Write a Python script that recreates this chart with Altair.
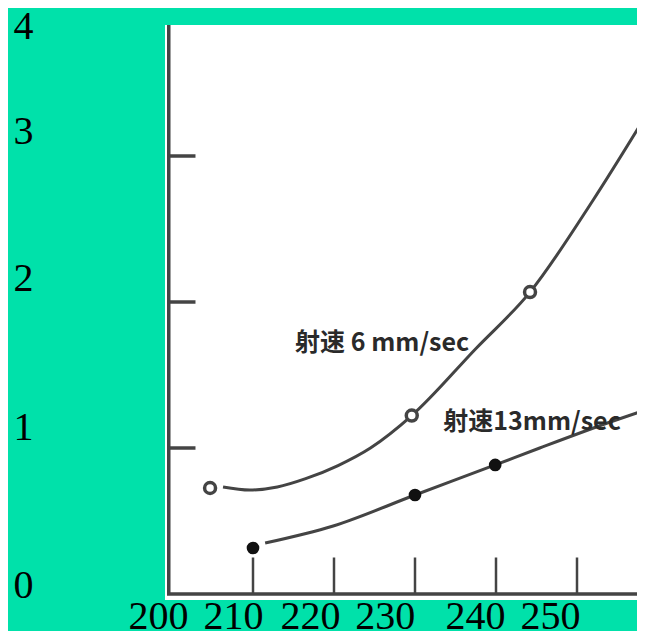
import altair as alt
import pandas as pd

# ---- slide labels (outer, misaligned text placed on the slide) ----
y_label_text = ["0", "1", "2", "3", "4"]
y_label_pos = [0.055, 1.137, 2.158, 3.171, 3.89]          # label centres
x_label_text = ["200", "210", "220", "230", "240", "250"]
x_label_pos = [201.98, 211.23, 220.74, 229.98, 241.11, 250.37]  # label right edges

# ---- scanned inner chart ----
inner_x_ticks = [210, 220, 230, 240, 250]
inner_y_ticks = [1, 2, 3]
inner_origin_x = 199.6
inner_top_y = 3.95
inner_right_x = 258.5
inner_xtick_len = 0.25
inner_ytick_len = 3.3

# series 射速 6 mm/sec (open circles)
s6_pts_x = [204.7, 229.6, 244.2]
s6_pts_y = [0.726, 1.222, 2.068]
s6_line_x = [206.3, 209.6, 213.0, 216.5, 220.5, 224.5, 229.6, 237.5, 244.2, 252.0, 258.4]
s6_line_y = [0.733, 0.712, 0.733, 0.790, 0.880, 1.000, 1.222, 1.680, 2.068, 2.699, 3.267]

# series 射速13mm/sec (filled dots)
s13_pts_x = [210.0, 230.0, 239.9]
s13_pts_y = [0.315, 0.678, 0.884]
s13_line_x = [211.5, 219.9, 230.0, 239.9, 245.4, 254.1, 258.4]
s13_line_y = [0.349, 0.466, 0.678, 0.884, 1.000, 1.178, 1.260]

ann_text = ["射速 6 mm/sec", "射速13mm/sec"]
ann_x = [215.2, 233.5]
ann_y = [1.72, 1.178]

GREEN = "#00E1AA"
INK = "#444444"

xs = alt.Scale(domain=[199.136, 257.407], nice=False, zero=False)
ys = alt.Scale(domain=[-0.0411, 3.8973], nice=False, zero=False)


def label_expr(pos, txt):
    parts = [f"abs(datum.value - {p}) < 0.01 ? '{t}' : " for p, t in zip(pos, txt)]
    return "".join(parts) + "''"


x_axis = alt.Axis(
    values=x_label_pos, labelExpr=label_expr(x_label_pos, x_label_text),
    title=None, grid=False, ticks=False, tickSize=0, domain=False,
    labelFont="Liberation Serif", labelFontSize=40, labelColor="black",
    labelAlign="right", labelBaseline="alphabetic", labelPadding=28,
    labelFlush=False, labelOverlap=False, labelBound=False,
)
y_axis = alt.Axis(
    values=y_label_pos, labelExpr=label_expr(y_label_pos, y_label_text),
    title=None, grid=False, ticks=False, tickSize=0, domain=False,
    labelFont="Liberation Serif", labelFontSize=40, labelColor="black",
    labelAlign="center", labelBaseline="middle", labelPadding=142,
    labelFlush=False, labelOverlap=False, labelBound=False,
)

X = alt.X("x:Q", scale=xs, axis=x_axis)
Y = alt.Y("y:Q", scale=ys, axis=y_axis)

frame_df = pd.DataFrame({
    "x": [inner_origin_x, inner_origin_x, inner_right_x],
    "y": [inner_top_y, 0, 0],
    "o": [0, 1, 2],
})
frame = alt.Chart(frame_df).mark_line(color=INK, strokeWidth=3.5, clip=True).encode(
    x=X, y=Y, order="o:Q")

xt_df = pd.DataFrame({"x": inner_x_ticks, "y": [0] * len(inner_x_ticks),
                      "y2": [inner_xtick_len] * len(inner_x_ticks)})
xticks = alt.Chart(xt_df).mark_rule(color=INK, strokeWidth=2.5).encode(
    x=X, y=Y, y2="y2:Q")

yt_df = pd.DataFrame({"y": inner_y_ticks, "x": [inner_origin_x] * len(inner_y_ticks),
                      "x2": [inner_origin_x + inner_ytick_len] * len(inner_y_ticks)})
yticks = alt.Chart(yt_df).mark_rule(color=INK, strokeWidth=3.5).encode(
    x=X, x2="x2:Q", y=Y)

l6 = alt.Chart(pd.DataFrame({"x": s6_line_x, "y": s6_line_y})).mark_line(
    color=INK, strokeWidth=3, interpolate="monotone", clip=True).encode(x=X, y=Y)
l13 = alt.Chart(pd.DataFrame({"x": s13_line_x, "y": s13_line_y})).mark_line(
    color=INK, strokeWidth=3, interpolate="monotone", clip=True).encode(x=X, y=Y)

p6 = alt.Chart(pd.DataFrame({"x": s6_pts_x, "y": s6_pts_y})).mark_point(
    shape="circle", size=120, filled=True, fill="white", stroke=INK, strokeWidth=3.5,
    opacity=1).encode(x=X, y=Y)
p13 = alt.Chart(pd.DataFrame({"x": s13_pts_x, "y": s13_pts_y})).mark_point(
    shape="circle", size=160, filled=True, color="#111111", opacity=1).encode(x=X, y=Y)

ann = alt.Chart(pd.DataFrame({"x": ann_x, "y": ann_y, "t": ann_text})).mark_text(
    font="Noto Sans CJK SC", fontWeight="bold", fontSize=25, color="#2a2a2a",
    align="left", baseline="middle").encode(x=X, y=Y, text="t:N")

chart = alt.layer(frame, xticks, yticks, l6, l13, p6, p13, ann).properties(
    width=472, height=575,
    padding={"left": 157, "top": 17, "right": 0, "bottom": 31},
    autosize=alt.AutoSizeParams(type="none"),
    background=GREEN,
).configure_view(fill="white", strokeWidth=0)

chart.save("out.html", embed_options={"renderer": "svg", "actions": False})
